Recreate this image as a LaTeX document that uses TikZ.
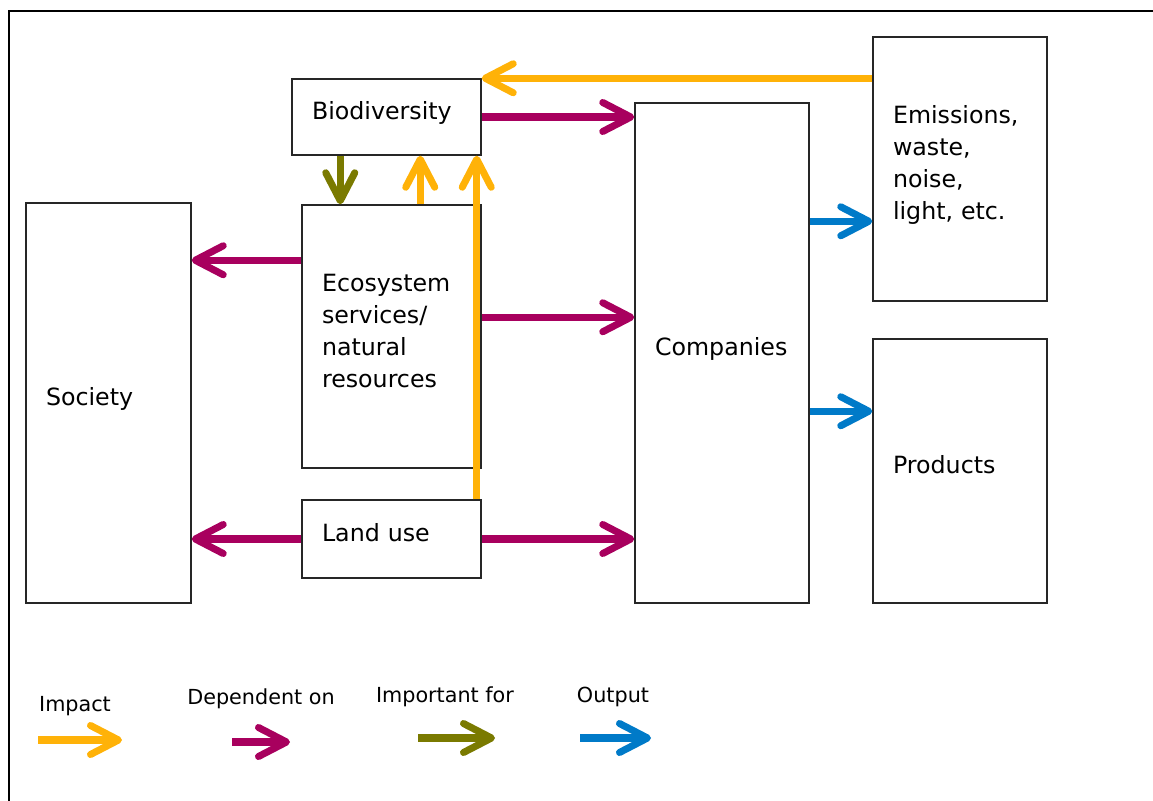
\documentclass[tikz,border=0pt]{standalone}
\usepackage{fontspec}
\setmainfont{DejaVu Sans}
\usetikzlibrary{arrows.meta,scopes}
\definecolor{impactc}{RGB}{255,178,8}
\definecolor{dependc}{RGB}{168,0,94}
\definecolor{importc}{RGB}{122,122,0}
\definecolor{outputc}{RGB}{0,122,200}
\begin{document}
\begin{tikzpicture}[x=0.02cm,y=-0.02cm,
    box/.style={draw=black!85,line width=0.85pt,fill=white,inner xsep=0.4cm,
      align=left,text depth=0.26cm,font=\fontsize{13.5}{18.2}\selectfont},
    flow/.style={line width=4pt,-{Straight Barb[round,length=5.6mm,width=5.8mm]}},
    impact/.style={flow,draw=impactc},
    depend/.style={flow,draw=dependc},
    import/.style={flow,draw=importc},
    output/.style={flow,draw=outputc}]
  \useasboundingbox (0,0) rectangle (1153,801);
  \draw[line width=1.1pt] (9,801) -- (9,11) -- (1153,11);
  { [every node/.style={box}]
    \node[minimum width=3.78cm,minimum height=1.52cm,text width=2.98cm] (bio) at (386.5,117) {Biodiversity};
    \node[minimum width=3.58cm,minimum height=5.26cm,text width=2.78cm,text depth=61pt] (eco) at (391.5,336.5) {Ecosystem\\services/\\natural\\resources};
    \node[minimum width=3.58cm,minimum height=1.56cm,text width=2.78cm] (land) at (391.5,539) {Land use};
    \node[minimum width=3.30cm,minimum height=8cm,text width=2.50cm] (soc) at (108.5,403) {Society};
    \node[minimum width=3.48cm,minimum height=10cm,text width=2.68cm] (comp) at (722,353) {Companies};
    \node[minimum width=3.48cm,minimum height=5.28cm,text width=2.68cm,text depth=62pt] (emis) at (960,169) {Emissions,\\waste,\\noise,\\light, etc.};
    \node[minimum width=3.48cm,minimum height=5.28cm,text width=2.68cm] (prod) at (960,471) {Products};
  }
  \draw[impact] (bio.north east -| emis.west) -- (bio.north east);
  \draw[impact] ([xshift=2.38cm]eco.north west) -- ([xshift=2.38cm]eco.north west |- bio.south);
  \draw[impact] ([xshift=-0.1cm]land.north east) -- ([xshift=-0.1cm]land.north east |- bio.south);
  \draw[import] ([xshift=0.98cm]bio.south west) -- ([xshift=0.98cm]bio.south west |- eco.north);
  \draw[depend] (bio.east) -- (bio.east -| comp.west);
  \draw[depend] ([yshift=-1.12cm]eco.north west) -- ([yshift=-1.12cm]eco.north west -| soc.east);
  \draw[depend] ([yshift=-2.26cm]eco.north east) -- ([yshift=-2.26cm]eco.north east -| comp.west);
  \draw[depend] (land.west) -- (land.west -| soc.east);
  \draw[depend] (land.east) -- (land.east -| comp.west);
  \draw[output] ([yshift=-2.38cm]comp.north east) -- ([yshift=-2.38cm]comp.north east -| emis.west);
  \draw[output] ([yshift=-6.18cm]comp.north east) -- ([yshift=-6.18cm]comp.north east -| prod.west);
  { [every node/.style={font=\fontsize{11.8}{14}\selectfont}]
    \node (kimpact) at (75,706) {Impact};
    \node (kdepend) at (261,699) {Dependent on};
    \node (kimport) at (445,697) {Important for};
    \node (koutput) at (613,697) {Output};
  }
  \coordinate (ia) at (38,740);  \coordinate (ib) at (122,740);
  \coordinate (da) at (232,742); \coordinate (db) at (290,742);
  \coordinate (ma) at (418,738); \coordinate (mb) at (495,738);
  \coordinate (oa) at (580,738); \coordinate (ob) at (651,738);
  \draw[impact] (ia) -- (ib);
  \draw[depend] (da) -- (db);
  \draw[import] (ma) -- (mb);
  \draw[output] (oa) -- (ob);
\end{tikzpicture}
\end{document}
